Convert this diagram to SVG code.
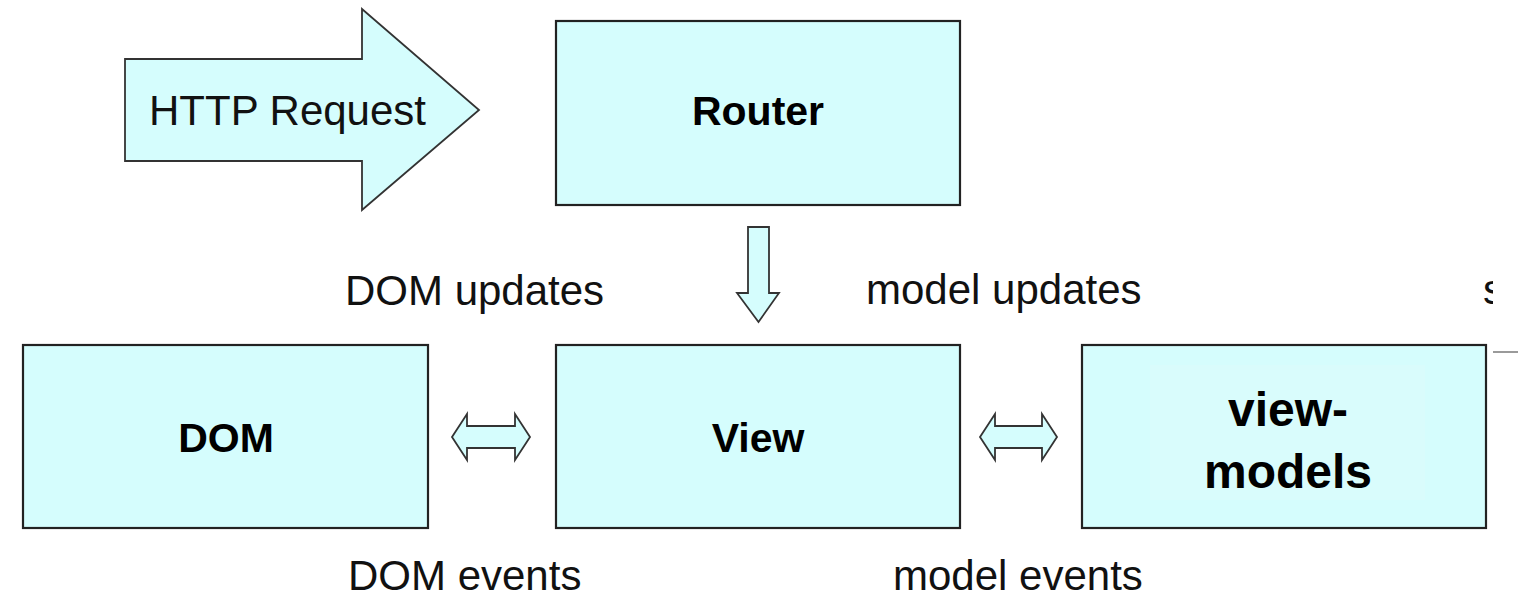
<svg xmlns="http://www.w3.org/2000/svg" width="1525" height="599" viewBox="0 0 1525 599">
<style>
.box{fill:#d5fdfd;stroke:#222;stroke-width:2.2}
.arr{fill:#d5fdfd;stroke:#333;stroke-width:1.8;stroke-linejoin:miter}
.lbl{font-family:"Liberation Sans",Arial,sans-serif;font-size:42px;fill:#111}
.bold{font-family:"Liberation Sans",Arial,sans-serif;font-size:41px;font-weight:bold;fill:#000;text-anchor:middle}
</style>
<defs>
<clipPath id="cut"><rect x="0" y="0" width="1493" height="599"/></clipPath>
</defs>
<rect width="1525" height="599" fill="#fff"/>
<g id="http-request">
<path class="arr" d="M125,59 H362 V9 L479,110 L362,210 V161 H125 Z"/>
<text class="lbl" x="149" y="125">HTTP Request</text>
</g>
<g id="router">
<rect class="box" x="556" y="21" width="404" height="184"/>
<text class="bold" x="758" y="125">Router</text>
</g>
<g id="dom">
<rect class="box" x="23" y="345" width="405" height="183"/>
<text class="bold" x="226" y="452">DOM</text>
</g>
<g id="view">
<rect class="box" x="556" y="345" width="404" height="183"/>
<text class="bold" x="758" y="452">View</text>
</g>
<g id="view-models">
<rect class="box" x="1082" y="345" width="404" height="183"/>
<rect x="1150" y="365" width="275" height="135" fill="#d9fcfc"/>
<text class="bold" style="font-size:48px" x="1288" y="426">view-</text>
<text class="bold" style="font-size:48px" x="1288" y="488">models</text>
</g>
<g id="connectors">
<path class="arr" d="M748,227 H769 V293 H779 L758.5,322 L737,293 H748 Z"/>
<path class="arr" d="M452,437 L467,414 V426 H515 V414 L530,437 L515,460 V448 H467 V460 Z"/>
<path class="arr" d="M980,437 L995,414 V426 H1042 V414 L1057,437 L1042,460 V448 H995 V460 Z"/>
<line x1="1493" y1="352" x2="1518" y2="352" stroke="#9a9a9a" stroke-width="2"/>
</g>
<g id="labels">
<text class="lbl" x="345" y="305">DOM updates</text>
<text class="lbl" x="866" y="304">model updates</text>
<text class="lbl" x="348" y="590">DOM events</text>
<text class="lbl" x="893" y="590">model events</text>
<text class="lbl" x="1483" y="304" clip-path="url(#cut)">s</text>
</g>
</svg>
